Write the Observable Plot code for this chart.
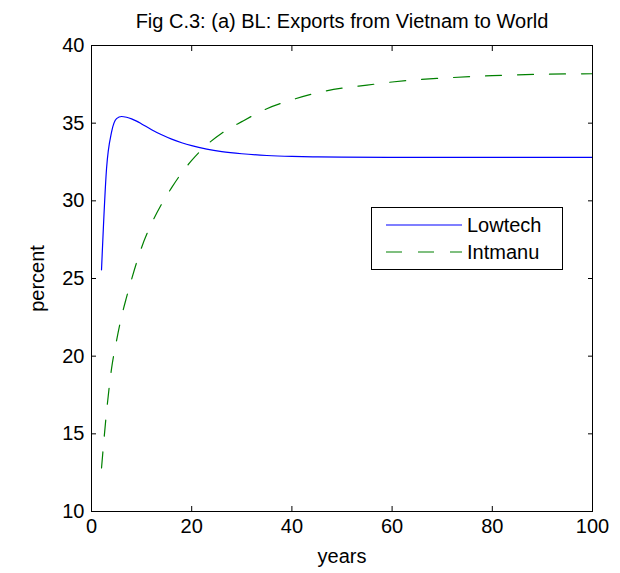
<!DOCTYPE html>
<html>
<head>
<meta charset="utf-8">
<script src="https://cdn.jsdelivr.net/npm/d3@7"></script>
<script src="https://cdn.jsdelivr.net/npm/@observablehq/plot@0.6"></script>
<style>
  body { margin: 0; background: #fff; }
  #wrap { position: relative; width: 620px; height: 573px; }
  #legend { position: absolute; left: 371px; top: 207px; }
</style>
</head>
<body>
<div id="wrap"></div>
<script>
const title = "Fig C.3: (a) BL: Exports from Vietnam to World";
const xLabel = "years";
const yLabel = "percent";
const xTicks = [0, 20, 40, 60, 80, 100];
const yTicks = [10, 15, 20, 25, 30, 35, 40];
const seriesNames = ["Lowtech", "Intmanu"];
const seriesColors = ["#0000ff", "#008000"];
const seriesDash = [null, "16,16"];

const lowtechYears  = [2, 3, 4, 5, 6, 7, 8, 9, 10, 12, 14, 16, 18, 20, 23, 26, 30, 35, 40, 45, 50, 60, 70, 80, 90, 100];
const lowtechValues = [25.56, 32.07, 34.42, 35.29, 35.43, 35.38, 35.28, 35.13, 34.95, 34.58, 34.25, 33.97, 33.74, 33.55, 33.33, 33.17, 33.03, 32.92, 32.86, 32.83, 32.81, 32.8, 32.8, 32.8, 32.8, 32.8];

const intmanuYears  = [2, 3, 4, 5, 6, 7, 8, 10, 12, 14, 16, 18, 20, 23, 26, 30, 35, 40, 45, 50, 55, 60, 65, 70, 80, 90, 100];
const intmanuValues = [12.8, 16.4, 19.2, 21.0, 22.55, 23.8, 24.95, 27.0, 28.55, 29.8, 30.85, 31.8, 32.6, 33.6, 34.35, 35.1, 35.93, 36.5, 36.95, 37.25, 37.45, 37.65, 37.8, 37.9, 38.06, 38.15, 38.18];

const lowtech = lowtechYears.map((x, i) => ({year: x, value: lowtechValues[i]}));
const intmanu = intmanuYears.map((x, i) => ({year: x, value: intmanuValues[i]}));

const font = "'Liberation Sans', Arial, Helvetica, sans-serif";

const chart = Plot.plot({
  width: 620,
  height: 573,
  marginLeft: 91,
  marginRight: 28,
  marginTop: 45,
  marginBottom: 62,
  style: {fontFamily: font, fontSize: "20px", color: "black", background: "white", overflow: "visible"},
  x: {domain: [0, 100]},
  y: {domain: [10, 40]},
  marks: [
    Plot.line(lowtech, {x: "year", y: "value", stroke: seriesColors[0], strokeWidth: 1.2, curve: "monotone-x"}),
    Plot.line(intmanu, {x: "year", y: "value", stroke: seriesColors[1], strokeWidth: 1.2, strokeDasharray: seriesDash[1], curve: "monotone-x"}),
    Plot.frame({stroke: "black", strokeWidth: 1}),
    Plot.axisX({ticks: xTicks, anchor: "bottom", tickSize: 0, tickPadding: 7, label: xLabel, labelAnchor: "center", labelArrow: "none", labelOffset: 51}),
    Plot.axisX({ticks: xTicks, anchor: "bottom", tickSize: -5, text: null, label: null}),
    Plot.axisX({ticks: xTicks, anchor: "top", tickSize: -5, text: null, label: null}),
    Plot.axisY({ticks: yTicks, anchor: "left", tickSize: 0, tickPadding: 7, label: yLabel, labelAnchor: "center", labelArrow: "none", labelOffset: 62}),
    Plot.axisY({ticks: yTicks, anchor: "left", tickSize: -5, text: null, label: null}),
    Plot.axisY({ticks: yTicks, anchor: "right", tickSize: -5, text: null, label: null}),
    Plot.text([title], {text: d => d, frameAnchor: "top", lineAnchor: "bottom", dy: -18, fontSize: 20})
  ]
});

const wrap = document.getElementById("wrap");
wrap.appendChild(chart);

// Legend (MATLAB-style boxed legend inside the axes)
const legend = d3.create("svg")
  .attr("id", "legend")
  .attr("width", 193)
  .attr("height", 64)
  .style("font-family", font)
  .style("font-size", "20px");
legend.append("rect")
  .attr("x", 0.5).attr("y", 0.5).attr("width", 191).attr("height", 62)
  .attr("fill", "white").attr("stroke", "black");
const rows = legend.selectAll("g").data(seriesNames).join("g")
  .attr("transform", (d, i) => `translate(0,${18 + i * 27})`);
rows.append("line")
  .attr("x1", 15).attr("x2", 91).attr("y1", 0).attr("y2", 0)
  .attr("stroke", (d, i) => seriesColors[i])
  .attr("stroke-width", 1.2)
  .attr("stroke-dasharray", (d, i) => seriesDash[i]);
rows.append("text")
  .attr("x", 96).attr("dy", "0.35em")
  .attr("fill", "black")
  .text(d => d);
wrap.appendChild(legend.node());
</script>
</body>
</html>
